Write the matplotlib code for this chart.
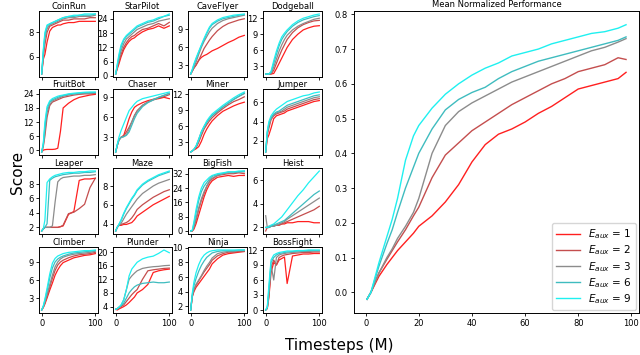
import matplotlib
matplotlib.use("Agg")
import matplotlib.pyplot as plt

# --- data ---
EAUX = [1, 2, 3, 6, 9]
COLORS = ["#ff1f1f", "#c44e4e", "#8c8c8c", "#3fbcbf", "#1ff0f0"]

STEPS = [0, 3, 6, 10, 15, 20, 25, 30, 35, 40, 50, 60, 70, 80, 90, 100]

COINRUN = [
    [4.6, 5.8, 6.2, 7.2, 8.1, 8.4, 8.5, 8.6, 8.6, 8.7, 8.8, 8.8, 8.9, 8.9, 8.9, 8.9],
    [4.6, 6.0, 7.0, 8.0, 8.5, 8.6, 8.7, 8.8, 8.9, 9.0, 9.0, 9.1, 9.1, 9.1, 9.2, 9.2],
    [4.6, 6.2, 7.5, 8.3, 8.6, 8.7, 8.8, 8.9, 9.0, 9.1, 9.2, 9.2, 9.3, 9.3, 9.3, 9.4],
    [4.6, 6.4, 7.8, 8.5, 8.7, 8.8, 8.9, 9.0, 9.1, 9.2, 9.3, 9.3, 9.4, 9.4, 9.4, 9.5],
    [4.6, 6.6, 8.0, 8.6, 8.7, 8.8, 8.9, 9.0, 9.1, 9.2, 9.3, 9.4, 9.4, 9.5, 9.5, 9.5],
]
STARPILOT = [
    [0.8, 3.0, 5.0, 8.0, 11.0, 13.0, 14.5, 15.5, 16.0, 17.0, 18.5, 19.5, 20.0, 21.0, 20.0, 21.0],
    [0.8, 3.5, 6.0, 9.0, 12.0, 14.0, 15.5, 16.5, 17.0, 18.0, 19.5, 20.0, 21.0, 22.0, 21.0, 22.5],
    [0.8, 4.0, 7.0, 10.5, 13.5, 15.5, 16.5, 17.5, 18.5, 19.5, 20.5, 21.5, 22.0, 23.0, 23.5, 24.0],
    [0.8, 4.5, 8.0, 12.0, 15.0, 16.5, 17.5, 18.5, 19.5, 20.5, 21.5, 22.5, 23.0, 24.0, 25.0, 25.5],
    [0.8, 5.0, 9.0, 13.0, 15.5, 17.0, 18.0, 19.0, 20.0, 21.0, 22.0, 23.0, 23.5, 24.5, 25.0, 26.0],
]
CAVEFLYER = [
    [1.5, 2.0, 2.5, 3.0, 3.8, 4.3, 4.6, 4.8, 5.1, 5.4, 5.8, 6.3, 6.8, 7.2, 7.7, 8.0],
    [1.5, 2.0, 2.5, 3.0, 3.8, 4.8, 5.8, 6.5, 7.2, 7.8, 8.8, 9.5, 10.0, 10.3, 10.6, 10.8],
    [1.5, 2.0, 2.6, 3.5, 4.8, 6.0, 7.0, 7.8, 8.6, 9.2, 10.0, 10.5, 10.8, 11.0, 11.2, 11.4],
    [1.5, 2.2, 3.0, 4.0, 5.2, 6.3, 7.3, 8.3, 9.2, 9.8, 10.4, 10.8, 11.0, 11.2, 11.4, 11.5],
    [1.5, 2.3, 3.2, 4.2, 5.3, 6.4, 7.5, 8.5, 9.4, 10.0, 10.6, 11.0, 11.2, 11.4, 11.5, 11.6],
]
DODGEBALL = [
    [1.5, 1.5, 1.5, 1.5, 1.6, 2.5, 3.5, 4.5, 5.5, 6.5, 8.0, 9.0, 9.8, 10.2, 10.5, 10.6],
    [1.5, 1.5, 1.5, 1.5, 2.2, 3.5, 4.8, 6.0, 7.0, 8.0, 9.3, 10.2, 10.8, 11.2, 11.5, 11.6],
    [1.5, 1.5, 1.5, 1.6, 2.8, 4.3, 5.8, 7.0, 8.0, 8.8, 9.8, 10.5, 11.0, 11.4, 11.8, 12.0],
    [1.5, 1.5, 1.5, 1.8, 3.5, 5.2, 6.8, 8.0, 8.8, 9.5, 10.5, 11.2, 11.7, 12.0, 12.3, 12.5],
    [1.5, 1.5, 1.5, 2.0, 4.0, 5.8, 7.3, 8.5, 9.2, 9.8, 10.8, 11.5, 12.0, 12.3, 12.6, 12.8],
]
FRUITBOT = [
    [-0.8, 0.0, 0.2, 0.3, 0.3, 0.3, 0.4, 0.8, 8.0, 18.0, 20.0, 21.5, 22.5, 23.0, 23.5, 23.8],
    [-0.8, 1.5, 6.0, 14.0, 19.0, 20.5, 21.0, 21.5, 22.0, 22.5, 23.0, 23.5, 23.8, 24.0, 24.0, 24.2],
    [-0.8, 2.0, 8.0, 16.0, 19.5, 21.0, 21.5, 22.0, 22.5, 23.0, 23.5, 24.0, 24.0, 24.2, 24.3, 24.5],
    [-0.8, 2.5, 10.0, 17.5, 20.5, 21.5, 22.0, 22.5, 23.0, 23.3, 23.8, 24.0, 24.3, 24.5, 24.5, 24.6],
    [-0.8, 3.0, 12.0, 18.5, 21.0, 22.0, 22.5, 23.0, 23.3, 23.5, 24.0, 24.3, 24.5, 24.7, 24.8, 24.8],
]
CHASER = [
    [0.8, 1.8, 2.6, 3.0, 3.3, 4.5, 5.8, 6.8, 7.5, 7.8, 8.2, 8.5, 8.7, 8.8, 9.0, 8.8],
    [0.8, 1.8, 2.6, 3.0, 3.2, 3.8, 4.5, 5.3, 6.3, 7.0, 7.8, 8.3, 8.6, 8.9, 9.1, 9.4],
    [0.8, 1.8, 2.6, 3.0, 3.1, 3.4, 4.2, 5.3, 6.2, 6.9, 7.8, 8.3, 8.7, 9.0, 9.3, 9.6],
    [0.8, 1.8, 2.6, 3.0, 3.1, 3.3, 3.8, 4.8, 5.8, 6.6, 7.6, 8.2, 8.6, 9.0, 9.3, 9.6],
    [0.8, 2.0, 3.0, 4.0, 5.0, 6.0, 7.0, 7.5, 8.0, 8.4, 8.8, 9.0, 9.2, 9.4, 9.6, 9.8],
]
MINER = [
    [1.2, 1.4, 1.6, 1.8, 2.2, 3.2, 4.5, 5.5, 6.3, 7.0, 8.0, 8.8, 9.3, 9.8, 10.2, 10.5],
    [1.2, 1.4, 1.6, 2.0, 3.0, 4.3, 5.5, 6.3, 7.0, 7.6, 8.5, 9.3, 10.0, 10.6, 11.0, 11.5],
    [1.2, 1.4, 1.7, 2.3, 3.6, 5.0, 6.0, 6.8, 7.5, 8.0, 8.8, 9.6, 10.3, 11.0, 11.6, 12.1],
    [1.2, 1.4, 1.7, 2.2, 3.4, 4.8, 5.8, 6.7, 7.4, 8.0, 8.8, 9.6, 10.3, 11.0, 11.6, 12.2],
    [1.2, 1.4, 1.7, 2.3, 3.6, 5.0, 6.0, 7.0, 7.7, 8.3, 9.1, 9.9, 10.6, 11.3, 11.9, 12.4],
]
JUMPER = [
    [0.8, 2.2, 2.6, 3.3, 4.3, 4.6, 4.7, 4.8, 4.9, 5.1, 5.3, 5.5, 5.7, 5.9, 6.1, 6.2],
    [0.8, 2.6, 3.3, 4.2, 4.6, 4.8, 4.9, 5.0, 5.1, 5.3, 5.5, 5.7, 5.9, 6.1, 6.3, 6.4],
    [0.8, 2.8, 3.6, 4.3, 4.7, 4.9, 5.0, 5.1, 5.3, 5.5, 5.7, 5.9, 6.1, 6.3, 6.5, 6.6],
    [0.8, 2.9, 3.8, 4.4, 4.8, 5.0, 5.1, 5.3, 5.5, 5.7, 5.9, 6.1, 6.3, 6.5, 6.7, 6.8],
    [0.8, 3.0, 4.0, 4.6, 5.0, 5.3, 5.5, 5.7, 5.9, 6.1, 6.3, 6.5, 6.7, 6.8, 7.0, 7.1],
]
LEAPER = [
    [1.5, 1.8, 2.0, 2.0, 2.0, 2.0, 2.0, 2.0, 2.1, 2.2, 3.8, 4.2, 8.5, 8.7, 8.7, 8.8],
    [1.5, 1.8, 2.0, 2.0, 2.0, 2.0, 2.0, 2.0, 2.1, 2.3, 3.9, 4.1, 4.6, 5.2, 7.5, 8.8],
    [1.5, 1.8, 2.0, 2.0, 2.0, 2.2, 5.5, 8.3, 8.7, 8.9, 9.0, 9.1, 9.1, 9.2, 9.2, 9.3],
    [1.5, 1.8, 2.0, 2.5, 8.5, 8.8, 9.0, 9.1, 9.2, 9.3, 9.4, 9.5, 9.5, 9.6, 9.6, 9.7],
    [1.5, 1.8, 3.0, 8.2, 8.7, 9.0, 9.2, 9.3, 9.4, 9.5, 9.6, 9.6, 9.7, 9.7, 9.8, 9.8],
]
MAZE = [
    [3.2, 3.6, 3.8, 3.8, 3.9, 3.9, 4.0, 4.1, 4.4, 4.8, 5.2, 5.6, 6.0, 6.3, 6.6, 6.9],
    [3.2, 3.6, 3.8, 3.9, 4.0, 4.1, 4.3, 4.6, 5.0, 5.5, 6.0, 6.4, 6.8, 7.1, 7.4, 7.6],
    [3.2, 3.6, 3.8, 4.0, 4.5, 5.0, 5.4, 5.8, 6.2, 6.6, 7.2, 7.6, 8.0, 8.3, 8.5, 8.7],
    [3.2, 3.6, 3.9, 4.3, 5.0, 5.6, 6.1, 6.6, 7.0, 7.5, 8.1, 8.5, 8.8, 9.1, 9.3, 9.5],
    [3.2, 3.6, 3.9, 4.4, 5.1, 5.7, 6.2, 6.7, 7.1, 7.6, 8.2, 8.6, 8.9, 9.2, 9.4, 9.6],
]
BIGFISH = [
    [0.0, 0.0, 1.0, 4.0, 9.0, 14.0, 19.0, 23.0, 26.0, 28.0, 30.0, 30.5, 31.0, 30.5, 31.0, 31.0],
    [0.0, 0.0, 2.0, 6.0, 12.0, 17.0, 21.0, 25.0, 27.5, 29.0, 31.0, 31.5, 32.0, 32.0, 32.5, 32.0],
    [0.0, 0.0, 2.0, 7.0, 13.0, 18.0, 22.0, 25.0, 28.0, 29.5, 31.0, 32.0, 32.5, 32.5, 33.0, 33.0],
    [0.0, 0.3, 4.0, 10.0, 17.0, 22.0, 25.0, 27.0, 29.0, 30.5, 31.5, 32.0, 33.0, 33.0, 33.0, 33.5],
    [0.0, 0.5, 5.0, 12.0, 19.0, 24.0, 27.0, 28.5, 30.0, 31.0, 32.0, 32.5, 33.0, 33.0, 33.5, 33.5],
]
HEIST = [
    [2.0, 2.0, 2.1, 2.1, 2.2, 2.2, 2.2, 2.3, 2.3, 2.4, 2.4, 2.5, 2.5, 2.5, 2.4, 2.4],
    [1.7, 2.0, 2.0, 2.1, 2.1, 2.2, 2.2, 2.3, 2.4, 2.5, 2.7, 2.9, 3.1, 3.3, 3.5, 3.8],
    [3.0, 2.0, 2.0, 2.1, 2.1, 2.2, 2.3, 2.4, 2.5, 2.7, 3.0, 3.3, 3.6, 3.9, 4.2, 4.5],
    [2.0, 2.0, 2.0, 2.1, 2.2, 2.3, 2.4, 2.5, 2.6, 2.8, 3.2, 3.6, 4.0, 4.4, 4.8, 5.1],
    [2.0, 2.0, 2.1, 2.2, 2.3, 2.5, 2.7, 2.9, 3.2, 3.5, 4.1, 4.7, 5.2, 5.8, 6.3, 6.8],
]
CLIMBER = [
    [1.0, 1.4, 2.0, 3.0, 4.3, 5.5, 6.8, 7.7, 8.4, 8.9, 9.3, 9.7, 9.9, 10.1, 10.2, 10.4],
    [1.0, 1.5, 2.2, 3.3, 4.8, 6.3, 7.6, 8.5, 9.0, 9.3, 9.7, 10.0, 10.2, 10.3, 10.4, 10.6],
    [1.0, 1.5, 2.3, 3.5, 5.2, 6.8, 8.2, 9.0, 9.5, 9.8, 10.1, 10.3, 10.4, 10.5, 10.6, 10.8],
    [1.0, 1.6, 2.6, 4.2, 6.3, 8.0, 9.0, 9.5, 9.8, 10.0, 10.3, 10.5, 10.6, 10.7, 10.8, 10.9],
    [1.0, 1.7, 2.8, 4.6, 7.0, 8.8, 9.6, 10.0, 10.2, 10.4, 10.6, 10.7, 10.8, 10.9, 10.9, 11.0],
]
PLUNDER = [
    [3.2, 3.0, 3.3, 3.6, 4.0, 4.5, 5.2, 6.0, 6.8, 8.0, 9.0, 10.5, 14.0, 14.5, 14.8, 15.0],
    [3.2, 3.3, 3.6, 4.0, 4.5, 5.5, 6.5, 7.5, 8.3, 9.0, 12.0, 14.5, 14.8, 15.0, 15.2, 15.3],
    [3.2, 3.4, 3.8, 4.3, 6.0, 9.0, 12.0, 13.0, 13.8, 14.5, 15.2, 15.5, 15.7, 15.8, 16.0, 16.1],
    [3.2, 3.4, 3.8, 4.3, 5.0, 6.5, 8.0, 9.0, 9.8, 10.3, 10.8, 11.0, 11.2, 11.0, 11.0, 11.2],
    [3.2, 3.4, 3.8, 4.5, 6.0, 9.0, 13.0, 15.0, 16.0, 17.0, 18.0, 18.5, 18.8, 19.6, 20.6, 19.8],
]
NINJA = [
    [1.5, 3.3, 4.0, 4.6, 5.1, 5.6, 6.1, 6.6, 7.1, 7.8, 8.5, 9.0, 9.2, 9.3, 9.4, 9.5],
    [1.5, 3.4, 4.2, 4.9, 5.5, 6.1, 6.7, 7.2, 7.7, 8.3, 8.9, 9.2, 9.4, 9.4, 9.5, 9.5],
    [1.5, 3.4, 4.3, 5.0, 5.6, 6.2, 6.9, 7.5, 8.0, 8.6, 9.2, 9.4, 9.5, 9.5, 9.6, 9.6],
    [1.5, 3.6, 4.8, 5.8, 6.8, 7.6, 8.2, 8.7, 9.0, 9.3, 9.5, 9.6, 9.6, 9.6, 9.7, 9.7],
    [1.5, 3.8, 5.3, 6.6, 7.7, 8.5, 9.0, 9.3, 9.5, 9.6, 9.7, 9.7, 9.7, 9.7, 9.7, 9.7],
]
BOSSFIGHT = [
    [0.0, 0.3, 2.5, 7.5, 9.5, 9.0, 10.0, 10.3, 10.6, 5.3, 10.8, 11.0, 11.2, 11.2, 11.3, 11.3],
    [0.0, 0.3, 3.0, 8.5, 10.0, 9.0, 10.5, 10.8, 11.0, 11.1, 11.3, 11.4, 11.5, 11.5, 11.6, 11.6],
    [0.0, 0.4, 3.5, 9.0, 6.0, 10.5, 11.0, 11.2, 11.3, 11.4, 11.5, 11.6, 11.7, 11.7, 11.8, 11.8],
    [0.0, 0.5, 4.0, 9.5, 10.5, 11.0, 11.3, 11.4, 11.5, 11.6, 11.7, 11.8, 11.8, 11.9, 11.9, 11.9],
    [0.0, 0.6, 5.0, 10.0, 11.0, 11.3, 11.5, 11.6, 11.7, 11.8, 11.8, 11.9, 11.9, 12.0, 12.0, 12.0],
]

GAMES = ["CoinRun", "StarPilot", "CaveFlyer", "Dodgeball",
         "FruitBot", "Chaser", "Miner", "Jumper",
         "Leaper", "Maze", "BigFish", "Heist",
         "Climber", "Plunder", "Ninja", "BossFight"]
GAME_SCORES = [COINRUN, STARPILOT, CAVEFLYER, DODGEBALL,
               FRUITBOT, CHASER, MINER, JUMPER,
               LEAPER, MAZE, BIGFISH, HEIST,
               CLIMBER, PLUNDER, NINJA, BOSSFIGHT]
GAME_YTICKS = [[6, 8], [0, 6, 12, 18, 24], [3, 6, 9], [3, 6, 9, 12],
               [0, 6, 12, 18, 24], [3, 6, 9], [3, 6, 9, 12], [2, 4, 6],
               [2, 4, 6, 8], [4, 6, 8], [0, 8, 16, 24, 32], [2, 4, 6],
               [3, 6, 9], [4, 8, 12, 16, 20], [2, 4, 6, 8, 10], [0, 3, 6, 9, 12]]

# mean normalized performance
MEAN_STEPS = [0.5, 2, 5, 8, 10, 12, 15, 18, 20, 25, 30, 35, 40, 45, 50,
              55, 60, 65, 70, 75, 80, 85, 90, 95, 98]
MEAN_E1 = [-0.02, 0.0, 0.046, 0.08, 0.10, 0.12, 0.145, 0.17, 0.19, 0.22, 0.26, 0.31, 0.375,
           0.425, 0.455, 0.47, 0.49, 0.515, 0.535, 0.56, 0.585, 0.595, 0.605, 0.615, 0.633]
MEAN_E2 = [-0.02, 0.0, 0.056, 0.095, 0.12, 0.145, 0.18, 0.22, 0.245, 0.33, 0.395, 0.43, 0.465,
           0.49, 0.515, 0.54, 0.56, 0.58, 0.60, 0.615, 0.635, 0.645, 0.655, 0.675, 0.67]
MEAN_E3 = [-0.02, 0.0, 0.055, 0.10, 0.125, 0.155, 0.19, 0.23, 0.27, 0.40, 0.48, 0.52, 0.545,
           0.565, 0.585, 0.605, 0.62, 0.635, 0.65, 0.665, 0.68, 0.695, 0.705, 0.72, 0.73]
MEAN_E6 = [-0.02, 0.0, 0.075, 0.14, 0.18, 0.23, 0.30, 0.36, 0.40, 0.47, 0.525, 0.555, 0.575,
           0.59, 0.615, 0.635, 0.65, 0.665, 0.675, 0.685, 0.695, 0.705, 0.715, 0.725, 0.735]
MEAN_E9 = [-0.02, 0.0, 0.085, 0.16, 0.21, 0.27, 0.38, 0.45, 0.48, 0.53, 0.57, 0.60, 0.625,
           0.645, 0.66, 0.68, 0.69, 0.70, 0.715, 0.725, 0.735, 0.745, 0.75, 0.76, 0.77]
MEAN_SCORES = [MEAN_E1, MEAN_E2, MEAN_E3, MEAN_E6, MEAN_E9]

W, H = 640, 355
COL_LEFT = [39, 113, 188, 263]
ROW_TOP = [11, 89, 168, 247]
SW, SH = 59, 66


def px_axes(fig, left, top, w, h):
    return fig.add_axes([left / W, 1 - (top + h) / H, w / W, h / H])


fig = plt.figure(figsize=(W / 100, H / 100), dpi=100)

for i, (name, runs, yt) in enumerate(zip(GAMES, GAME_SCORES, GAME_YTICKS)):
    r, c = divmod(i, 4)
    ax = px_axes(fig, COL_LEFT[c], ROW_TOP[r], SW, SH)
    for vals, col in zip(runs, COLORS):
        ax.plot(STEPS, vals, color=col, lw=0.9)
    ax.set_xticks([0, 100])
    ax.set_yticks(yt)
    ax.tick_params(labelsize=6, length=2.5, pad=1.5, width=0.6)
    if r < 3:
        ax.set_xticklabels([])
    ax.set_title(name, fontsize=6, pad=1.5)
    for s in ax.spines.values():
        s.set_linewidth(0.7)

ax = px_axes(fig, 354, 11, 285, 302)
for vals, col, e in zip(MEAN_SCORES, COLORS, EAUX):
    ax.plot(MEAN_STEPS, vals, color=col, lw=1.0,
            label=r"$E_{aux}$ = %d" % e)
ax.set_title("Mean Normalized Performance", fontsize=6, pad=3)
ax.tick_params(labelsize=6, length=2.5, pad=2, width=0.6)
for s in ax.spines.values():
    s.set_linewidth(0.7)
ax.legend(loc="lower right", fontsize=7.5, borderaxespad=0.3,
          labelspacing=0.22, handlelength=2.3, borderpad=0.4)

fig.text(0.027, 0.515, "Score", rotation=90, fontsize=11, ha="center", va="center")
fig.text(0.53, 0.028, "Timesteps (M)", fontsize=11, ha="center", va="center")

fig.savefig("out.png", dpi=100)
